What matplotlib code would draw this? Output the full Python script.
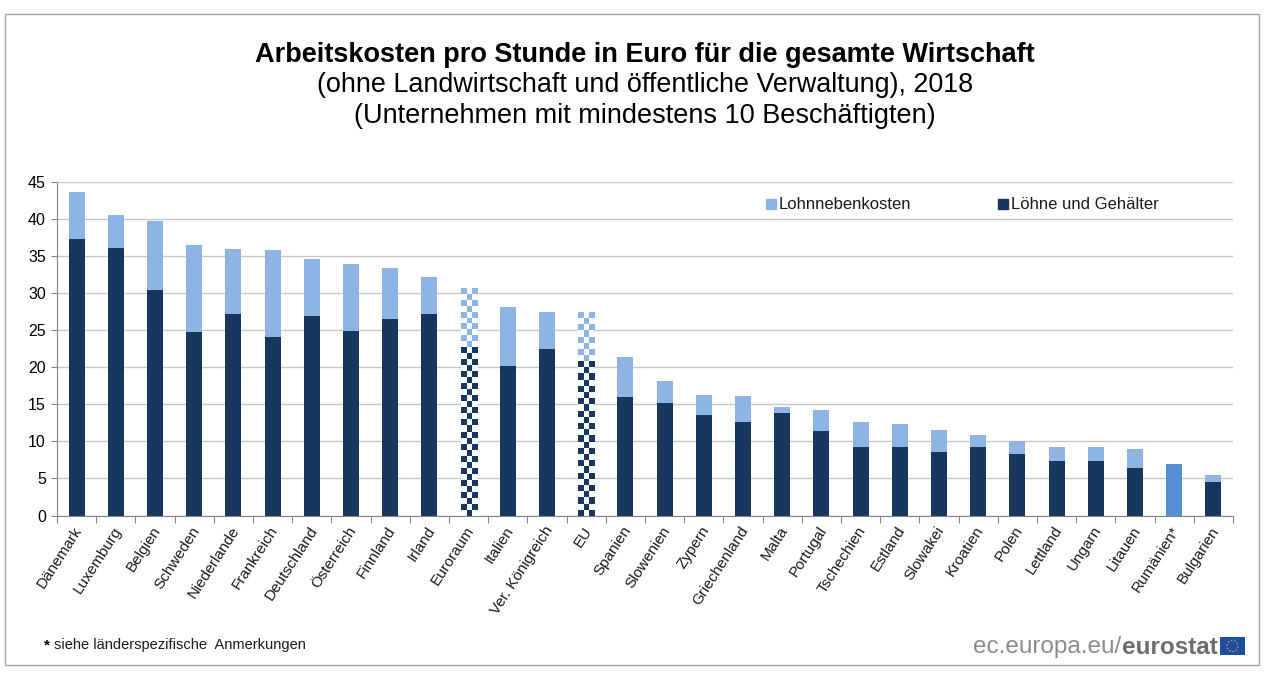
"""Arbeitskosten pro Stunde - gestapelte Balken nach Eurostat."""

import numpy as np
import matplotlib
matplotlib.use("Agg")
import matplotlib.pyplot as plt
from matplotlib.colors import to_rgba
from matplotlib.patches import Circle, Rectangle

plt.rcParams["font.family"] = ["Liberation Sans", "DejaVu Sans"]

countries = [
    "Dänemark", "Luxemburg", "Belgien", "Schweden", "Niederlande", "Frankreich",
    "Deutschland", "Österreich", "Finnland", "Irland", "Euroraum", "Italien",
    "Ver. Königreich", "EU", "Spanien", "Slowenien", "Zypern", "Griechenland",
    "Malta", "Portugal", "Tschechien", "Estland", "Slowakei", "Kroatien", "Polen",
    "Lettland", "Ungarn", "Litauen", "Rumänien*", "Bulgarien",
]
wages = [
    37.3, 36.1, 30.4, 24.8, 27.2, 24.1, 26.9, 24.9, 26.5, 27.2, 22.7, 20.2, 22.4,
    20.8, 16.0, 15.2, 13.5, 12.6, 13.8, 11.4, 9.2, 9.2, 8.6, 9.3, 8.3, 7.3, 7.3,
    6.4, 6.9, 4.5,
]
non_wage = [
    6.3, 4.4, 9.3, 11.7, 8.7, 11.7, 7.7, 9.0, 6.9, 5.0, 7.9, 8.0, 5.0,
    6.6, 5.4, 3.0, 2.7, 3.5, 0.8, 2.8, 3.4, 3.2, 3.0, 1.6, 1.8, 2.0, 1.9,
    2.6, 0.0, 0.9,
]
aggregates = ["Euroraum", "EU"]
no_split = ["Rumänien*"]

DARK = "#17375e"
LIGHT = "#8db4e2"
MID = "#558ed5"
W, H = 1267, 688


def checker_fill(ax, bar, color, cell=0.82):
    """Fill a bar with a checkerboard, top row has squares at both edges."""
    x0, y0 = bar.get_x(), bar.get_y()
    w, h = bar.get_width(), bar.get_height()
    rows = max(int(round(h / cell)), 1)
    cols = 3
    img = np.zeros((rows, cols, 4))
    rgba = to_rgba(color)
    for r in range(rows):
        for c in range(cols):
            if (rows - 1 - r + c) % 2 == 0:
                img[r, c] = rgba
    ax.imshow(img, extent=(x0, x0 + w, y0, y0 + h), origin="lower",
              aspect="auto", interpolation="nearest", zorder=3)


fig = plt.figure(figsize=(W / 100, H / 100), dpi=100)
fig.patch.set_facecolor("white")

# Rahmen um die ganze Grafik
fig.add_artist(Rectangle((5 / W, 1 - 665 / H), 1254 / W, 651 / H, fill=False,
                         edgecolor="#a6a6a6", linewidth=1.0,
                         transform=fig.transFigure))

ax = fig.add_axes([57 / W, 1 - 515.5 / H, 1176 / W, 333.5 / H])

for i, name in enumerate(countries):
    special = name in aggregates
    if name in no_split:
        ax.bar(i, wages[i], width=0.41, color=MID, zorder=3)
        continue
    low = ax.bar(i, wages[i], width=0.41, color="white" if special else DARK, zorder=2.5)[0]
    top = ax.bar(i, non_wage[i], bottom=wages[i], width=0.41,
                 color="white" if special else LIGHT, zorder=2.5)[0]
    if special:
        checker_fill(ax, low, DARK)
        checker_fill(ax, top, LIGHT)

ax.set_xlim(-0.5, len(countries) - 0.5)
ax.set_ylim(0, 45)
ax.set_yticks(range(0, 50, 5))
ax.tick_params(axis="y", labelsize=11.5, length=4, color="#868686", pad=4)
ax.yaxis.grid(True, color="#c8c8c8", linewidth=1)
ax.set_axisbelow(True)

# Striche zwischen den Kategorien
ax.set_xticks(np.arange(len(countries) + 1) - 0.5)
ax.set_xticklabels([])
ax.tick_params(axis="x", length=5, color="#868686")
for i, name in enumerate(countries):
    ax.annotate(name, (i, 0), xycoords=("data", "axes fraction"),
                xytext=(-2.5, -6), textcoords="offset points", rotation=57,
                rotation_mode="anchor", ha="right", va="top", fontsize=11,
                color="#1a1a1a")

for side in ("top", "right"):
    ax.spines[side].set_visible(False)
for side in ("left", "bottom"):
    ax.spines[side].set_color("#868686")

# Titel
fig.text(645 / W, 1 - 55.5 / H, "Arbeitskosten pro Stunde in Euro für die gesamte Wirtschaft",
         ha="center", va="center", fontsize=19.5, fontweight="bold")
fig.text(645 / W, 1 - 85 / H, "(ohne Landwirtschaft und öffentliche Verwaltung), 2018",
         ha="center", va="center", fontsize=19.4)
fig.text(645 / W, 1 - 116 / H, "(Unternehmen mit mindestens 10 Beschäftigten)",
         ha="center", va="center", fontsize=19.5)

# Legende von Hand, wie im Original zweispaltig
fig.add_artist(Rectangle((766 / W, 1 - 209 / H), 10 / W, 10 / H, color=LIGHT))
fig.text(779 / W, 1 - 204 / H, "Lohnnebenkosten", va="center", fontsize=12, color="#1a1a1a")
fig.add_artist(Rectangle((998 / W, 1 - 209 / H), 10 / W, 10 / H, color=DARK))
fig.text(1011 / W, 1 - 204 / H, "Löhne und Gehälter", va="center", fontsize=12, color="#1a1a1a")

# Fussnote
fig.text(44 / W, 1 - 645 / H, "*", va="center", fontsize=11, fontweight="bold")
fig.text(54 / W, 1 - 645 / H, "siehe länderspezifische  Anmerkungen", va="center", fontsize=10.5,
         color="#1a1a1a")

# Eurostat Logo
fig.text(973 / W, 1 - 647 / H, "ec.europa.eu/", va="center", fontsize=17.5, color="#8c8c8c")
fig.text(1122 / W, 1 - 647 / H, "eurostat", va="center", fontsize=17.5, fontweight="bold",
         color="#6e6e6e")
flag = fig.add_axes([1220 / W, 1 - 655 / H, 25 / W, 18 / H])
flag.set_xlim(0, 25)
flag.set_ylim(0, 18)
flag.axis("off")
flag.add_patch(Rectangle((0, 0), 25, 18, color="#1f4e9e"))
flag.add_patch(Circle((12.5, 9), 5.5, fill=False, edgecolor="#b9a94f", linewidth=1,
                      linestyle=(0, (1, 1.5))))

fig.savefig("out.png", dpi=100)
